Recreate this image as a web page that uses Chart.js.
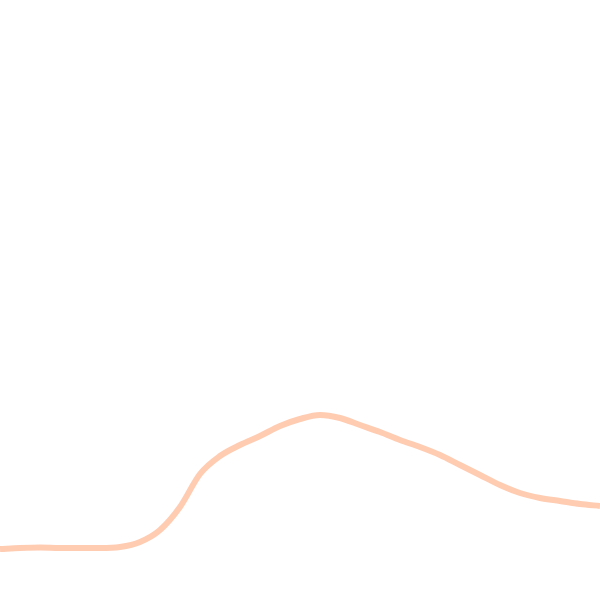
<!DOCTYPE html>
<html>
<head>
<script src="https://cdn.jsdelivr.net/npm/chart.js"></script>
<style>
  html, body { margin: 0; padding: 0; background: #fff; }
  #wrap { width: 600px; height: 600px; }
</style>
</head>
<body>
<div id="wrap"><canvas id="myChart"></canvas></div>
<script>
  // x positions (0..600) and curve heights
  const categories = [0, 20, 40, 60, 80, 100, 120, 140, 160, 180, 200, 220, 240, 260, 280, 300,
                      320, 340, 360, 380, 400, 420, 440, 460, 480, 500, 520, 540, 560, 580, 600];
  const values = [51, 52, 52.5, 52, 52, 52, 53, 58, 70, 93, 126, 144, 155, 164, 174, 181,
                  185, 182, 175, 168, 160, 153, 145, 135, 125, 115, 107, 102, 99, 96, 94];

  const ctx = document.getElementById('myChart').getContext('2d');
  new Chart(ctx, {
    type: 'line',
    data: {
      datasets: [{
        data: categories.map((x, i) => ({ x: x, y: values[i] })),
        borderColor: 'rgb(255, 204, 178)',
        borderWidth: 6,
        pointRadius: 0,
        fill: false,
        tension: 0.4,
        cubicInterpolationMode: 'monotone'
      }]
    },
    options: {
      responsive: true,
      maintainAspectRatio: false,
      animation: false,
      layout: { padding: 0 },
      plugins: { legend: { display: false }, tooltip: { enabled: false } },
      scales: {
        x: { type: 'linear', min: 0, max: 600, display: false },
        y: { min: 0, max: 600, display: false }
      }
    }
  });
</script>
</body>
</html>
